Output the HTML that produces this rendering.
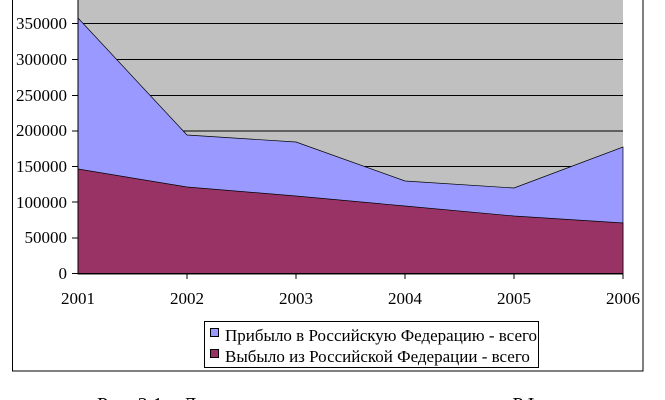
<!DOCTYPE html>
<html><head><meta charset="utf-8"><style>
body{margin:0;background:#fff;width:665px;height:400px;overflow:hidden}
svg{display:block;font-family:"Liberation Serif",serif}
</style></head><body>
<svg width="665" height="400" viewBox="0 0 665 400">
<rect x="0" y="0" width="665" height="400" fill="#fff"/>
<polyline points="12.5,0 12.5,371 643,371 643,0" fill="none" stroke="#000" stroke-width="1"/>
<rect x="78" y="0" width="545" height="274" fill="#c0c0c0"/>
<g stroke="#000" stroke-width="1">
<line x1="78" y1="23.5" x2="623" y2="23.5"/>
<line x1="78" y1="59.5" x2="623" y2="59.5"/>
<line x1="78" y1="95.5" x2="623" y2="95.5"/>
<line x1="78" y1="131" x2="623" y2="131"/>
<line x1="78" y1="166.5" x2="623" y2="166.5"/>
<line x1="78" y1="202" x2="623" y2="202"/>
<line x1="78" y1="238" x2="623" y2="238"/>
</g>
<polygon points="78,18 187,135 296,142 405,181 514,188 623,147 623,274 78,274" fill="#9999ff" stroke="#000" stroke-width="0.7"/>
<polygon points="78,169 187,187 296,196 405,206 514,216 623,223 623,274 78,274" fill="#993366" stroke="#000" stroke-width="0.7"/>
<g stroke="#000" stroke-width="1">
<line x1="78" y1="0" x2="78" y2="274"/>
<line x1="78" y1="273.5" x2="623" y2="273.5"/>
<line x1="72" y1="23.5" x2="78" y2="23.5"/><line x1="72" y1="59.5" x2="78" y2="59.5"/>
<line x1="72" y1="95.5" x2="78" y2="95.5"/><line x1="72" y1="131" x2="78" y2="131"/>
<line x1="72" y1="166.5" x2="78" y2="166.5"/><line x1="72" y1="202" x2="78" y2="202"/>
<line x1="72" y1="238" x2="78" y2="238"/><line x1="72" y1="273.5" x2="78" y2="273.5"/>
<line x1="187" y1="274" x2="187" y2="279"/><line x1="296" y1="274" x2="296" y2="279"/>
<line x1="405" y1="274" x2="405" y2="279"/><line x1="514" y1="274" x2="514" y2="279"/>
<line x1="623" y1="274" x2="623" y2="279"/>
</g>
<g font-size="17" text-anchor="end" fill="#000">
<text x="67" y="29">350000</text><text x="67" y="65">300000</text>
<text x="67" y="101">250000</text><text x="67" y="136">200000</text>
<text x="67" y="172">150000</text><text x="67" y="208">100000</text>
<text x="67" y="243">50000</text><text x="67" y="279">0</text>
</g>
<g font-size="17" text-anchor="middle" fill="#000">
<text x="78" y="304">2001</text><text x="187" y="304">2002</text>
<text x="296" y="304">2003</text><text x="405" y="304">2004</text>
<text x="514" y="304">2005</text><text x="623" y="304">2006</text>
</g>
<rect x="204.5" y="321.5" width="334" height="46" fill="#fff" stroke="#000"/>
<rect x="210.5" y="328.5" width="8" height="8" fill="#9999ff" stroke="#000"/>
<rect x="210.5" y="349.5" width="8" height="8" fill="#993366" stroke="#000"/>
<g font-size="17" fill="#000">
<text x="225" y="341">Прибыло в Российскую Федерацию - всего</text>
<text x="225" y="362">Выбыло из Российской Федерации - всего</text>
</g>
<text x="97" y="411" font-size="20">Рис. 2.1 – Динамика миграционных процессов в РФ</text>
</svg>
</body></html>
